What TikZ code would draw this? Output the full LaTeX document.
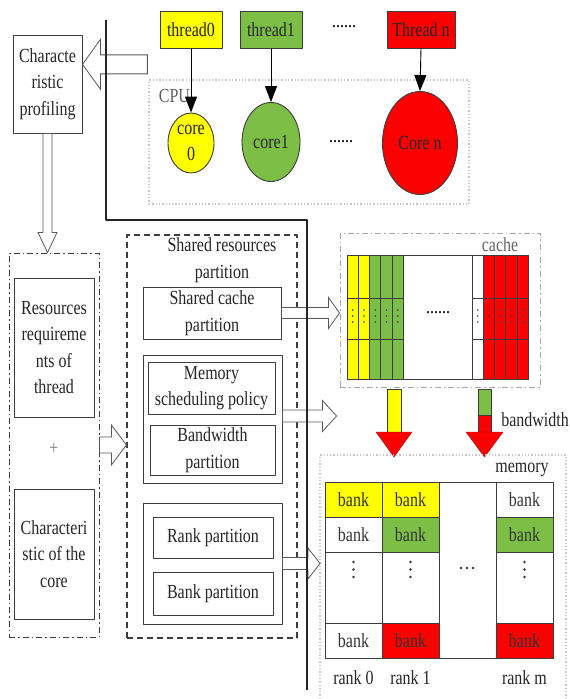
\documentclass[tikz,border=0pt]{standalone}
\usepackage{fontspec}
\setmainfont{Liberation Serif}[FakeStretch=0.8]
\usetikzlibrary{arrows.meta,calc,shapes.geometric}
\definecolor{yel}{RGB}{255,255,0}
\definecolor{grn}{RGB}{125,190,70}
\definecolor{rd}{RGB}{250,0,0}
\definecolor{edge}{RGB}{60,60,60}
\tikzset{
  box/.style={draw=edge,line width=1pt,align=center,inner sep=0pt,text=black!85},
  thr/.style={box,minimum height=37},
  core/.style={draw=edge,ellipse,line width=.9pt,align=center,inner sep=0pt,text=black!85},
  hollow/.style={draw=edge!85,line width=.8pt,fill=white,line join=miter},
  dashdot/.style={dash pattern=on 6pt off 3pt on 1.5pt off 3pt,line width=1pt},
  dotbox/.style={draw=gray!45,dotted,line width=1.3pt}
}
% hollow block arrows: tail, tip, shaft half width, head half width, head length (signed)
\newcommand\harrow[5]{\draw[hollow] let \p1=(#1),\p2=(#2) in
  (\x1,\y1+#3) -- ({\x2-(#5)},\y1+#3) -- ({\x2-(#5)},\y1+#4) -- (\x2,\y1)
  -- ({\x2-(#5)},\y1-#4) -- ({\x2-(#5)},\y1-#3) -- (\x1,\y1-#3) -- cycle;}
\newcommand\varrow[5]{\draw[hollow] let \p1=(#1),\p2=(#2) in
  (\x1-#3,\y1) -- (\x1-#3,\y2+#5) -- (\x1-#4,\y2+#5) -- (\x1,\y2)
  -- (\x1+#4,\y2+#5) -- (\x1+#3,\y2+#5) -- (\x1+#3,\y1) -- cycle;}
\begin{document}
\begin{tikzpicture}[x=1pt,y=-1pt,font=\fontsize{20}{26.5}\selectfont,line join=round,>={Triangle[length=16pt,width=12pt]}]
\useasboundingbox (0,0) rectangle (570,699);
% CPU part
\node[dotbox,minimum width=320,minimum height=124] (cpu) at (309,142) {};
\node[anchor=west,text=gray!75!black] (cpulab) at ($(cpu.north west)+(7,17)$) {CPU};
\node[thr,fill=yel,minimum width=62] (t0) at (191,29.5) {thread0};
\node[thr,fill=grn,minimum width=62] (t1) at (271,29.5) {thread1};
\node[thr,fill=rd,minimum width=68] (tn) at (421,29.5) {Thread n};
\node (tdots) at (344,27) {......};
\node[core,fill=yel,minimum width=46,minimum height=60] (c0) at (191,143) {core\\0};
\node[core,fill=grn,minimum width=58,minimum height=79] (c1) at (271,142) {core1};
\node[core,fill=rd,minimum width=75,minimum height=103] (cn) at (420,143) {Core n};
\node (cdots) at (341,142) {......};
\foreach \a/\b in {t0/c0,t1/c1,tn/cn}
  \draw[->,line width=.9pt] (\a.south) -- (\b.north);
% left column
\node[box,minimum width=69,minimum height=98] (prof) at (47.5,84) {Characte\\ristic\\profiling};
\node[draw=edge,dashdot,minimum width=90,minimum height=384] (req) at (54,445) {};
\node[box,minimum width=80,minimum height=139] (resreq) at (54,347.5) {Resources\\requireme\\nts of\\thread};
\node[text=gray] (plus) at (54,449) {+};
\node[box,minimum width=80,minimum height=130] (corech) at (54,554) {Characteri\\stic of the\\core};
% partition column
\node[draw=edge,dash pattern=on 6pt off 4pt,line width=1.2pt,minimum width=170,minimum height=403] (part) at (212,436.5) {};
\node[align=center,text=black!85] (parttit) at (222,260) {Shared resources\\partition};
\node[box,minimum width=138,minimum height=52] (scp) at (212,313) {Shared cache\\partition};
\node[box,minimum width=139,minimum height=128] (memgrp) at (212.5,419) {};
\node[box,minimum width=127,minimum height=52] (msp) at (211.5,388) {Memory\\scheduling policy};
\node[box,minimum width=125,minimum height=50] (bwp) at (212.5,450) {Bandwidth\\partition};
\node[box,minimum width=139,minimum height=121] (rbgrp) at (212.5,563.5) {};
\node[box,minimum width=120,minimum height=41] (rankp) at (213,537.5) {Rank partition};
\node[box,minimum width=120,minimum height=43] (bankp) at (213,593.5) {Bank partition};
% cache
\node[draw=gray!70,dashdot,minimum width=200,minimum height=154] (cachebox) at (440,310) {};
\node[text=gray!80!black] (cachelab) at (500,245) {cache};
\node[draw=edge,line width=.9pt,minimum width=181,minimum height=124,inner sep=0pt] (cache) at (437.5,317) {};
\foreach \cx/\cc in {347/yel,358.3/yel,369.6/grn,380.9/grn,392.2/grn,472/white,483.3/rd,494.6/rd,505.9/rd,517.2/rd}{
  \draw[edge,fill=\cc,line width=.9pt] (\cx,255) rectangle ++(11.3,124);
  \draw[edge,line width=.9pt] (\cx,298) -- ++(11.3,0) (\cx,339) -- ++(11.3,0);
  \foreach \dy in {310,316,322} \fill[black!75] (\cx+5.65,\dy) circle (0.9);
}
\node (cachedots) at (438,313) {......};
% bandwidth
\draw[edge,fill=yel] (387,389) rectangle (401,432);
\draw[rd!70!black,fill=rd] (376,432) -- (412,432) -- (394,457) -- cycle;
\draw[edge,fill=grn] (478,389) rectangle (491,415);
\draw[edge,fill=rd] (478,415) rectangle (491,432);
\draw[rd!70!black,fill=rd] (466,432) -- (503,432) -- (484.5,457) -- cycle;
\node[anchor=east,text=black!85,inner sep=1pt] (bwlab) at (570,420) {bandwidth};
% memory
\draw[dotbox] (320,699) -- (320,455) coordinate (memw) -- (566,455) -- (566,699);
\node[text=black!85] (memlab) at (522,470) {memory};
\foreach \x/\a/\b/\c/\r in {325/yel/white/white/0,382/yel/grn/rd/1,496/white/grn/rd/m}{
  \draw[edge,line width=.9pt,fill=\a] (\x,482) rectangle ++(57,35);
  \draw[edge,line width=.9pt,fill=\b] (\x,517) rectangle ++(57,35);
  \draw[edge,line width=.9pt] (\x,552) rectangle ++(57,71);
  \draw[edge,line width=.9pt,fill=\c] (\x,623) rectangle ++(57,35);
  \foreach \y in {499.5,534.5,640.5} \node[text=black!80] at (\x+28.5,\y) {bank};
  \foreach \dy in {562,569.5,577} \fill[black!80] (\x+28.5,\dy) circle (1.3);
  \node[text=black!85] at (\x+28.5,678) {rank \r};
}
\node[draw=edge,line width=.9pt,minimum width=228,minimum height=176,inner sep=0pt] (memgrid) at (439,570) {};
\foreach \dx in {-6,0,6} \fill[black!80] (467+\dx,568) circle (1.3);
% hollow arrows
\path (cpu.north west) ++(-1,-15) coordinate (ptail);
\harrow{ptail}{prof.east |- ptail}{9.5pt}{25pt}{-18pt}
\varrow{prof.south}{req.north}{4.5pt}{9.5pt}{20pt}
\harrow{req.east}{part.west |- req.east}{8pt}{20pt}{15pt}
\harrow{scp.east}{cachebox.west |- scp.east}{5.5pt}{15.5pt}{11pt}
\path (memgrp.east) ++(54,-3) coordinate (bwtip);
\harrow{memgrp.east |- bwtip}{bwtip}{6pt}{15.5pt}{14pt}
\harrow{rbgrp.east}{memw |- rbgrp.east}{6pt}{15.5pt}{12pt}
% separator
\path (106,20) coordinate (s0) (106,220) coordinate (s1) (307,220) coordinate (s2) (307,690) coordinate (s3);
\draw[line width=1.4pt,black!85] (s0) -- (s1) -- (s2) -- (s3);
\end{tikzpicture}
\end{document}
